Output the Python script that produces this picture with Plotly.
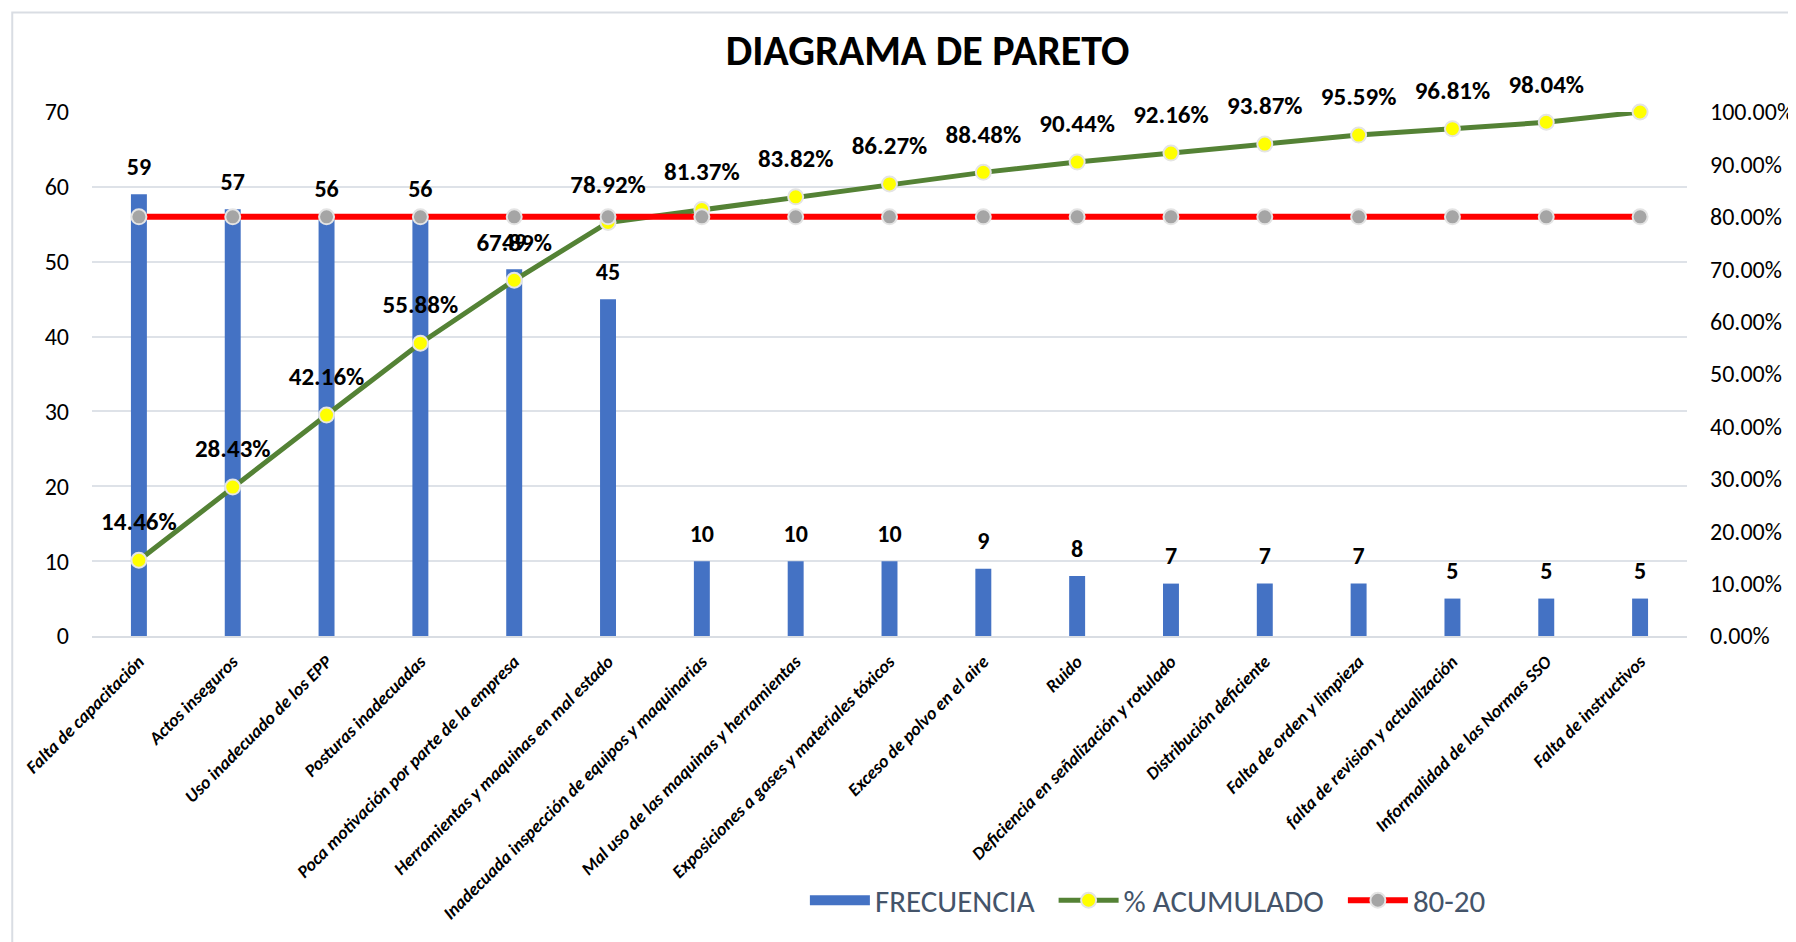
import plotly.graph_objects as go

causas = [
    "Falta de capacitación", "Actos inseguros", "Uso inadecuado de los EPP",
    "Posturas inadecuadas", "Poca motivación por parte de la empresa",
    "Herramientas y maquinas en mal estado",
    "Inadecuada inspección de equipos y maquinarias",
    "Mal uso de las maquinas y herramientas",
    "Exposiciones a gases y materiales tóxicos", "Exceso de polvo en el aire",
    "Ruido", "Deficiencia en señalización y rotulado", "Distribución deficiente",
    "Falta de orden y limpieza", "falta de revision y actualización",
    "Informalidad de las Normas SSO", "Falta de instructivos",
]
frecuencia = [59, 57, 56, 56, 49, 45, 10, 10, 10, 9, 8, 7, 7, 7, 5, 5, 5]
acumulado = [0.1446, 0.2843, 0.4216, 0.5588, 0.6789, 0.7892, 0.8137, 0.8382,
             0.8627, 0.8848, 0.9044, 0.9216, 0.9387, 0.9559, 0.9681, 0.9804, 1.0]
regla = [0.80] * 17

FONT = "Calibri, Carlito, Liberation Sans, Arial"
NB = "\u00a0\u00a0"

# etiquetas del acumulado (el ultimo punto no lleva etiqueta)
acum_txt = [f"{v*100:.2f}%" for v in acumulado[:-1]] + [""]

fig = go.Figure()

# entrada de leyenda para las barras (rectangulo ancho como en Excel)
fig.add_trace(go.Scatter(
    x=[None], y=[None], name="FRECUENCIA" + NB, mode="lines",
    line=dict(color="#4472C4", width=20),
))

fig.add_trace(go.Bar(
    x=causas, y=frecuencia, name="FRECUENCIA", showlegend=False,
    marker=dict(color="#4472C4", line_width=0),
    width=0.17, hoverinfo="x+y",
))

# etiquetas de las barras
fig.add_trace(go.Scatter(
    x=causas, y=frecuencia, mode="markers+text", showlegend=False,
    marker=dict(size=20, color="rgba(0,0,0,0)"),
    text=frecuencia, textposition="top center", cliponaxis=False,
    textfont=dict(size=24, color="black", family=FONT, weight="bold"),
    hoverinfo="skip",
))

fig.add_trace(go.Scatter(
    x=causas, y=acumulado, name="% ACUMULADO" + NB, yaxis="y2",
    mode="lines+markers",
    line=dict(color="#548235", width=5),
    marker=dict(color="#FFFF00", size=15, line=dict(color="#E4E4E4", width=2)),
    cliponaxis=False,
))

fig.add_trace(go.Scatter(
    x=causas, y=regla, name="80-20", yaxis="y2",
    mode="lines+markers",
    line=dict(color="#FF0000", width=6),
    marker=dict(color="#A5A5A5", size=15, line=dict(color="#E4E4E4", width=2)),
    cliponaxis=False,
))

# etiquetas del % acumulado
fig.add_trace(go.Scatter(
    x=causas, y=acumulado, yaxis="y2", mode="markers+text", showlegend=False,
    marker=dict(size=36, color="rgba(0,0,0,0)"),
    text=acum_txt, textposition="top center", cliponaxis=False,
    textfont=dict(size=25, color="black", family=FONT, weight="bold"),
    hoverinfo="skip",
))

fig.update_layout(
    width=1796, height=942,
    paper_bgcolor="white", plot_bgcolor="white",
    margin=dict(l=84, r=117, t=104, b=314),
    font=dict(family=FONT, color="black"),
    title=dict(text="<b>DIAGRAMA DE PARETO</b>", x=0.512, xanchor="center",
               y=0.955, yanchor="middle",
               font=dict(size=42, color="black", family=FONT)),
    xaxis=dict(
        type="category", categoryorder="array", categoryarray=causas,
        range=[-0.5, 16.5], autorange=False,
        tickangle=-45, showgrid=False, zeroline=False, automargin=False,
        showline=True, linecolor="#D9DDE3", linewidth=2,
        tickfont=dict(size=18, color="black", family=FONT,
                      weight="bold", style="italic"),
        ticks="", ticklabelstandoff=6,
    ),
    yaxis=dict(
        range=[0, 70], dtick=10, showgrid=True, gridcolor="#DEE2E8",
        gridwidth=2, zeroline=False, ticks="", ticklabelstandoff=22,
        automargin=False,
        tickfont=dict(size=24, color="black", family=FONT),
    ),
    yaxis2=dict(
        range=[0, 1], dtick=0.1, tickformat=".2%", overlaying="y",
        side="right", showgrid=False, zeroline=False, ticks="",
        ticklabelstandoff=22, automargin=False,
        tickfont=dict(size=24, color="black", family=FONT),
    ),
    legend=dict(
        orientation="h", x=0.662, xanchor="center", y=-0.505,
        yanchor="middle", font=dict(size=31, color="#44546A", family=FONT),
        itemwidth=60, bgcolor="rgba(0,0,0,0)",
    ),
    showlegend=True,
)

# borde del area del grafico
fig.add_shape(type="rect", xref="paper", yref="paper",
              x0=-0.05, x1=1.2, y0=1.19, y1=-0.7,
              line=dict(color="#D9DDE3", width=2), layer="below")

fig.write_html("out.html")
